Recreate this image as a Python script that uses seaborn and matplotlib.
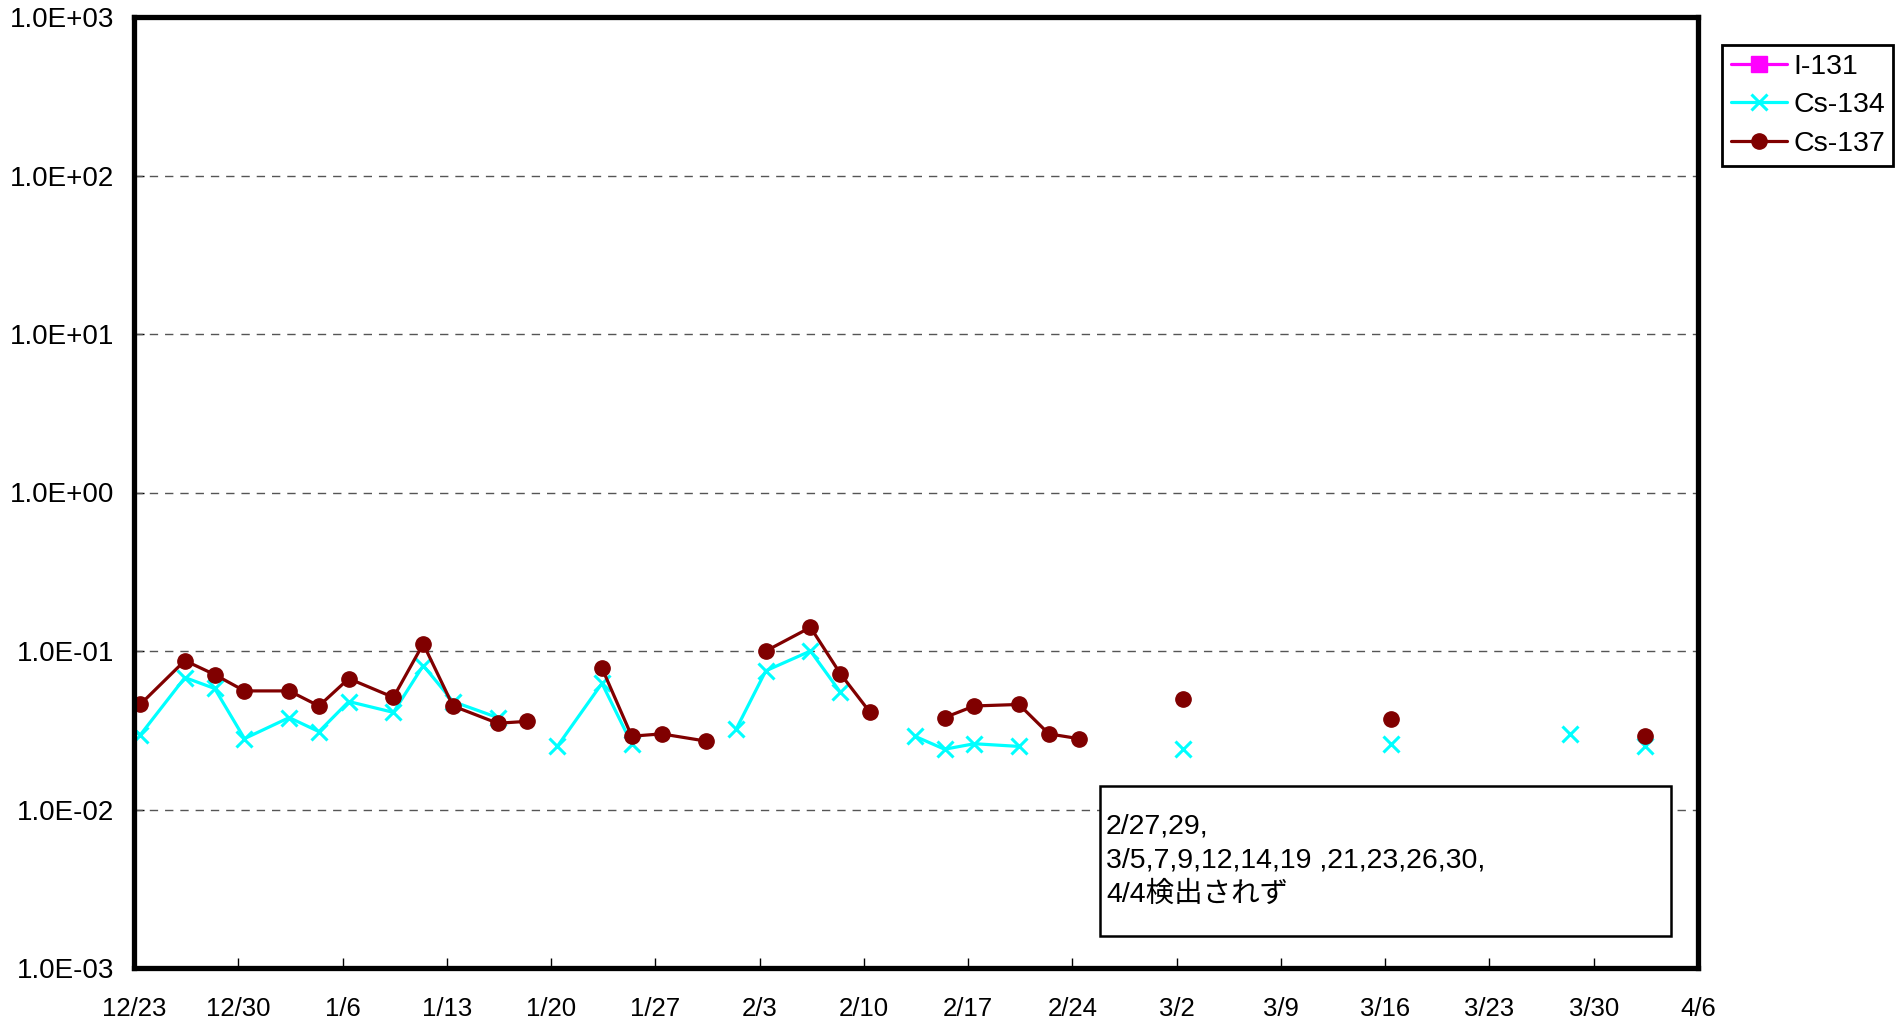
import numpy as np
import pandas as pd
import matplotlib
matplotlib.use("Agg")
import matplotlib.pyplot as plt
import matplotlib.dates as mdates
from matplotlib.lines import Line2D
from matplotlib.patches import Rectangle
from matplotlib.ticker import FuncFormatter, FixedLocator, NullLocator
import seaborn as sns

# ---------------- data ----------------
sample_time = "10:00"
dates = ["2011-12-21", "2011-12-23", "2011-12-26", "2011-12-28", "2011-12-30",
         "2012-01-02", "2012-01-04", "2012-01-06", "2012-01-09", "2012-01-11",
         "2012-01-13", "2012-01-16", "2012-01-18", "2012-01-20", "2012-01-23",
         "2012-01-25", "2012-01-27", "2012-01-30", "2012-02-01", "2012-02-03",
         "2012-02-06", "2012-02-08", "2012-02-10", "2012-02-13", "2012-02-15",
         "2012-02-17", "2012-02-20", "2012-02-22", "2012-02-24", "2012-02-27",
         "2012-02-29", "2012-03-02", "2012-03-05", "2012-03-07", "2012-03-09",
         "2012-03-12", "2012-03-14", "2012-03-16", "2012-03-19", "2012-03-21",
         "2012-03-23", "2012-03-26", "2012-03-28", "2012-03-30", "2012-04-02",
         "2012-04-04"]
nan = np.nan
i131 = [nan] * len(dates)
cs134 = [0.044, 0.0295, 0.068, 0.058, 0.028, 0.038, 0.031, 0.048, 0.041, 0.081,
         0.048, 0.038, nan, 0.025, 0.0625, 0.026, nan, nan, 0.032, 0.075,
         0.100, 0.055, nan, 0.029, 0.024, 0.026, 0.025, nan, nan, nan,
         nan, 0.024, nan, nan, nan, nan, nan, 0.026, nan, nan,
         nan, nan, 0.030, nan, 0.025, nan]
cs137 = [0.052, 0.046, 0.087, 0.071, 0.056, 0.056, 0.045, 0.067, 0.051, 0.111,
         0.045, 0.035, 0.036, nan, 0.078, 0.029, 0.030, 0.027, nan, 0.100,
         0.141, 0.072, 0.041, nan, 0.038, 0.045, 0.046, 0.030, 0.028, nan,
         nan, 0.050, nan, nan, nan, nan, nan, 0.037, nan, nan,
         nan, nan, nan, nan, 0.029, nan]
series_names = ["I-131", "Cs-134", "Cs-137"]
ytick_values = [1e-3, 1e-2, 1e-1, 1e0, 1e1, 1e2, 1e3]
xtick_start, xtick_end = "2011-12-23", "2012-04-06"
note_text = "2/27,29,\n3/5,7,9,12,14,19 ,21,23,26,30,\n4/4検出されず"

# ---------------- styles ----------------
styles = {
    "I-131": dict(color="#FF00FF", marker="s", ms=11, mew=1),
    "Cs-134": dict(color="#00FFFF", marker="x", ms=12, mew=2.2),
    "Cs-137": dict(color="#800000", marker="o", ms=11, mew=1),
}

sns.set_theme(style="white")
plt.rcParams["font.family"] = ["Liberation Sans", "Noto Sans CJK JP", "DejaVu Sans"]

W, H = 1904, 1026
fig = plt.figure(figsize=(W / 100, H / 100), dpi=100)
ax = fig.add_axes([134 / W, 1 - 968 / H, (1698 - 134) / W, (968 - 17) / H])

t = pd.to_datetime([d + " " + sample_time for d in dates])
values = {"I-131": i131, "Cs-134": cs134, "Cs-137": cs137}

for name in series_names:
    v = pd.Series(values[name], dtype=float)
    seg = v.isna().cumsum()
    df = pd.DataFrame({"date": t, "value": v, "seg": seg}).dropna()
    st = styles[name]
    if len(df):
        sns.lineplot(data=df, x="date", y="value", units="seg", estimator=None,
                     ax=ax, color=st["color"], lw=2.3, marker=st["marker"],
                     markersize=st["ms"], markeredgewidth=st["mew"],
                     markeredgecolor=st["color"], markerfacecolor=st["color"],
                     legend=False, zorder=3)

ax.set_yscale("log")
ax.set_ylim(ytick_values[0], ytick_values[-1])
ax.set_xlim(pd.Timestamp(xtick_start), pd.Timestamp(xtick_end))
ax.yaxis.set_major_locator(FixedLocator(ytick_values))
ax.yaxis.set_minor_locator(NullLocator())
ax.yaxis.set_major_formatter(FuncFormatter(lambda v, p: f"{v:.1E}"))
ax.set_xticks(pd.date_range(xtick_start, xtick_end, freq="7D"))
ax.xaxis.set_minor_locator(NullLocator())
ax.xaxis.set_major_formatter(mdates.DateFormatter("%-m/%-d"))
ax.set_xlabel("")
ax.set_ylabel("")

ax.grid(False)
for yv in ytick_values[1:-1]:
    ax.axhline(yv, color="#555555", lw=1.0, ls=(0, (6, 5)), zorder=1)

ax.tick_params(axis="y", direction="in", length=7, width=1, color="black",
               labelsize=20, pad=14, left=True)
ax.tick_params(axis="x", direction="in", length=7, width=1, color="black",
               labelsize=18.5, pad=21, bottom=True)
for lbl in ax.get_xticklabels() + ax.get_yticklabels():
    lbl.set_color("black")
for sp in ax.spines.values():
    sp.set_visible(True)
    sp.set_color("black")
    sp.set_linewidth(3.8)
    sp.set_zorder(5)

# legend
handles = []
for name in series_names:
    st = styles[name]
    handles.append(Line2D([0], [0], color=st["color"], lw=2.3, marker=st["marker"],
                          markersize=st["ms"], markeredgewidth=st["mew"],
                          markerfacecolor=st["color"], markeredgecolor=st["color"]))
leg = fig.legend(handles, series_names, loc="upper left",
                 bbox_to_anchor=(1722 / W, 1 - 45 / H), borderaxespad=0,
                 fontsize=20.5, frameon=True, fancybox=False, framealpha=1,
                 edgecolor="black", handlelength=2.0, handletextpad=0.2,
                 labelspacing=0.45, borderpad=0.3)
leg.get_frame().set_linewidth(2)
for txt in leg.get_texts():
    txt.set_color("black")

# note box
fig.patches.append(Rectangle((1100 / W, 1 - 936 / H), 571 / W, 150 / H,
                             transform=fig.transFigure, facecolor="white",
                             edgecolor="black", lw=1.8, zorder=6))
fig.text(1106 / W, 1 - 861 / H, note_text, ha="left", va="center",
         fontsize=20.5, linespacing=1.4, color="black", zorder=7,
         family=["Liberation Sans", "Noto Sans CJK JP"])

fig.savefig("out.png", dpi=100, facecolor="white")
